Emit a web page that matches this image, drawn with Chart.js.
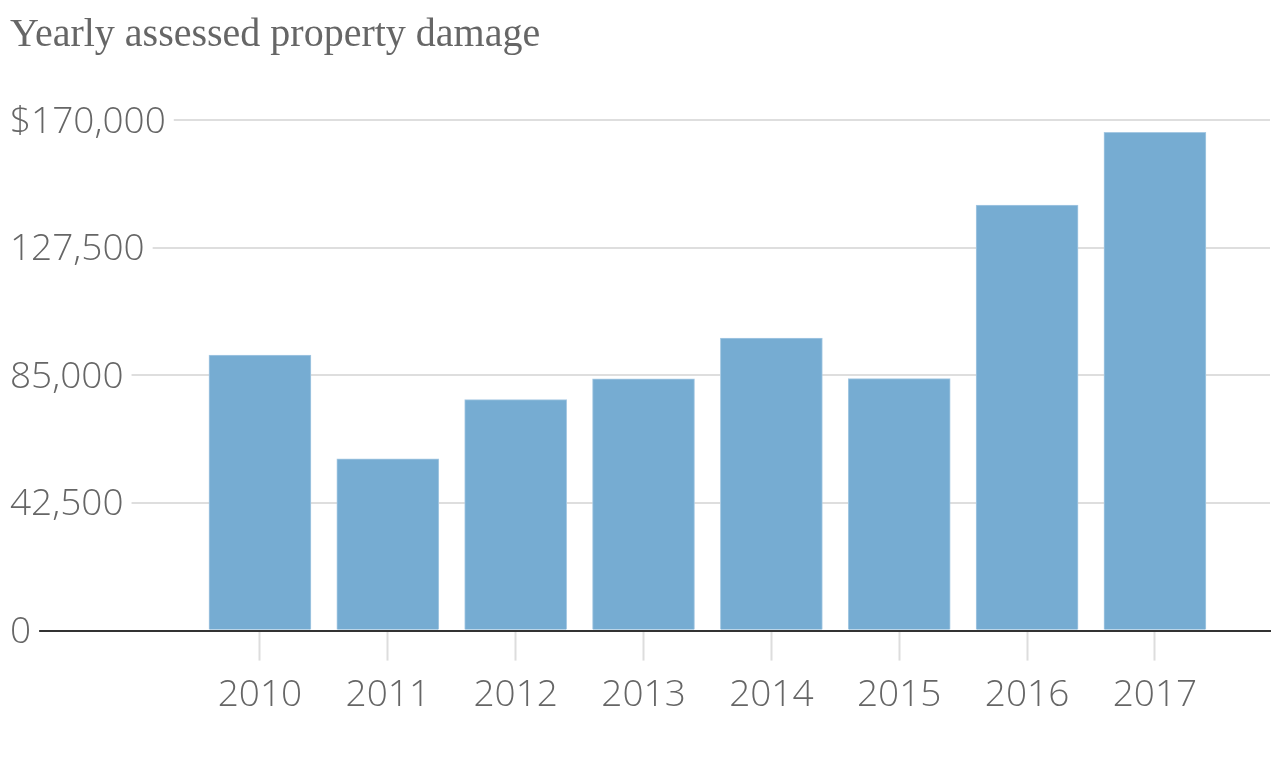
<!DOCTYPE html>
<html>
<head>
<meta charset="utf-8">
<title>Yearly assessed property damage</title>
<script src="https://cdn.jsdelivr.net/npm/chart.js@4"></script>
<style>
  html, body { margin: 0; padding: 0; background: #fff; }
  #wrap { width: 1280px; height: 776px; position: relative; }
</style>
</head>
<body>
<div id="wrap"><canvas id="js--chart"></canvas></div>
<script>
const years = [2010, 2011, 2012, 2013, 2014, 2015, 2016, 2017];
const damage = [91700, 57200, 76900, 83800, 97400, 83900, 141700, 165900];
const yTicks = [0, 42500, 85000, 127500, 170000];

const textColor = '#666666';

const data = {
    datasets: [
        {
            label: 'Assessed property damage',
            data: years.map((year, i) => ({ x: year, y: damage[i] })),
            backgroundColor: '#76acd2',
            borderColor: '#a6c9e3',
            borderWidth: 1,
            barThickness: 102
        }
    ]
};

const config = {
    type: 'bar',
    data: data,
    options: {
        responsive: true,
        maintainAspectRatio: false,
        animation: false,
        layout: {
            padding: { left: 10, right: 10, top: 0, bottom: 45 }
        },
        scales: {
            x: {
                type: 'linear',
                min: 2008.045,
                max: 2017.9,
                offset: false,
                afterBuildTicks: scale => {
                    scale.ticks = years.map(v => ({ value: v }));
                },
                ticks: {
                    color: textColor,
                    font: { family: "'Open Sans'", size: 37, weight: 300 },
                    padding: 13,
                    maxRotation: 0,
                    autoSkip: false,
                    callback: value => String(value)
                },
                grid: {
                    drawOnChartArea: false,
                    tickLength: 30,
                    tickColor: '#dddddd',
                    tickWidth: 2,
                    offset: false
                },
                border: {
                    display: true,
                    color: '#333333',
                    width: 2
                }
            },
            y: {
                min: 0,
                max: 170000,
                afterBuildTicks: scale => {
                    scale.ticks = yTicks.map(v => ({ value: v }));
                },
                ticks: {
                    mirror: true,
                    padding: 0,
                    labelOffset: 2,
                    z: 1,
                    color: textColor,
                    font: { family: "'Open Sans'", size: 37, weight: 300 },
                    showLabelBackdrop: true,
                    backdropColor: '#ffffff',
                    backdropPadding: { left: 4, right: 8, top: 0, bottom: 0 },
                    callback: value => {
                        const s = value.toLocaleString('en-US');
                        return value === 170000 ? '$' + s : s;
                    }
                },
                grid: {
                    drawTicks: false,
                    color: '#dedede',
                    lineWidth: 2
                },
                border: { display: false }
            }
        },
        plugins: {
            legend: { display: false },
            tooltip: { enabled: false },
            title: {
                display: true,
                text: 'Yearly assessed property damage',
                align: 'start',
                color: textColor,
                font: { family: "'Liberation Serif', 'DejaVu Serif', serif", size: 40, weight: 'normal' },
                padding: { top: 11, bottom: 61 }
            }
        }
    }
};

new Chart(document.getElementById('js--chart'), config);
</script>
</body>
</html>
